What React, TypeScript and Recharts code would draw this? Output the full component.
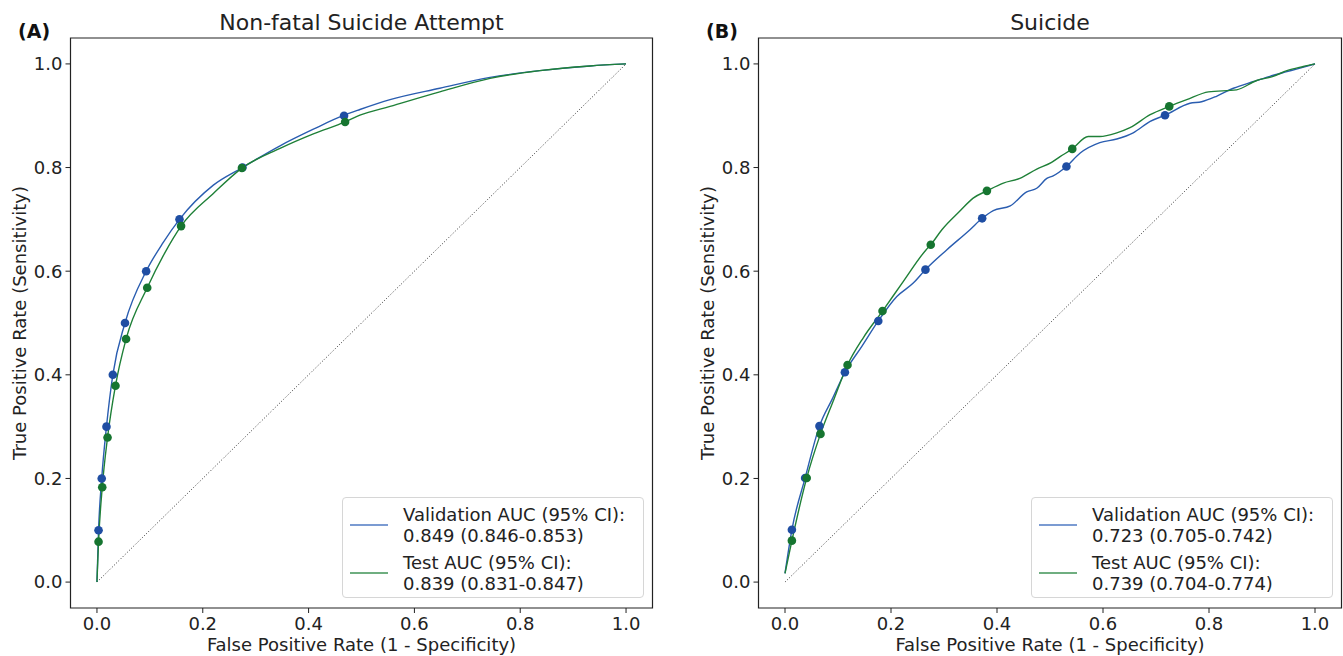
import React from 'react';
import {
  ComposedChart,
  Line,
  Scatter,
  XAxis,
  YAxis,
  ReferenceArea,
  Label,
} from 'recharts';

// Panel A: non-fatal suicide attempt
const nfsaValFpr = [0, 0.003, 0.009, 0.018, 0.03, 0.053, 0.093, 0.125, 0.156, 0.22, 0.275, 0.346, 0.409, 0.467, 0.497, 0.554, 0.648, 0.743, 0.837, 0.932, 1.0];
const nfsaValTpr = [0, 0.1, 0.2, 0.3, 0.4, 0.5, 0.6, 0.655, 0.7, 0.766, 0.8, 0.842, 0.874, 0.901, 0.912, 0.931, 0.953, 0.974, 0.987, 0.996, 1.0];
const nfsaTestFpr = [0, 0.003, 0.01, 0.02, 0.035, 0.055, 0.095, 0.128, 0.159, 0.22, 0.274, 0.346, 0.409, 0.469, 0.497, 0.554, 0.648, 0.743, 0.837, 0.932, 1.0];
const nfsaTestTpr = [0, 0.078, 0.183, 0.279, 0.379, 0.469, 0.568, 0.635, 0.687, 0.75, 0.799, 0.837, 0.865, 0.888, 0.901, 0.918, 0.946, 0.972, 0.987, 0.996, 1.0];
const nfsaValMarkFpr = [0.003, 0.009, 0.018, 0.03, 0.053, 0.093, 0.156, 0.275, 0.467];
const nfsaValMarkTpr = [0.1, 0.2, 0.3, 0.4, 0.5, 0.6, 0.7, 0.8, 0.9];
const nfsaTestMarkFpr = [0.003, 0.01, 0.02, 0.035, 0.055, 0.095, 0.159, 0.274, 0.469];
const nfsaTestMarkTpr = [0.078, 0.183, 0.279, 0.379, 0.469, 0.568, 0.687, 0.799, 0.888];

// Panel B: suicide
const suiValFpr = [0, 0.013, 0.038, 0.065, 0.09, 0.113, 0.145, 0.176, 0.211, 0.242, 0.265, 0.305, 0.349, 0.372, 0.393, 0.425, 0.456, 0.475, 0.494, 0.506, 0.531, 0.557, 0.594, 0.626, 0.657, 0.689, 0.717, 0.764, 0.786, 0.815, 0.846, 0.884, 0.915, 0.947, 0.965, 1.0];
const suiValTpr = [0.017, 0.101, 0.201, 0.301, 0.355, 0.405, 0.455, 0.504, 0.551, 0.577, 0.603, 0.641, 0.68, 0.702, 0.717, 0.726, 0.753, 0.76, 0.779, 0.784, 0.802, 0.828, 0.848, 0.855, 0.867, 0.889, 0.901, 0.924, 0.927, 0.938, 0.953, 0.966, 0.976, 0.985, 0.99, 1.0];
const suiTestFpr = [0, 0.013, 0.041, 0.067, 0.092, 0.118, 0.148, 0.184, 0.223, 0.266, 0.275, 0.296, 0.33, 0.355, 0.381, 0.412, 0.443, 0.475, 0.503, 0.519, 0.542, 0.572, 0.594, 0.626, 0.651, 0.689, 0.725, 0.758, 0.799, 0.852, 0.89, 0.921, 0.947, 0.978, 1.0];
const suiTestTpr = [0.017, 0.08, 0.201, 0.286, 0.352, 0.419, 0.472, 0.523, 0.58, 0.641, 0.651, 0.68, 0.716, 0.741, 0.755, 0.77, 0.779, 0.797, 0.81, 0.821, 0.836, 0.86, 0.86, 0.867, 0.877, 0.902, 0.918, 0.931, 0.946, 0.95, 0.968, 0.976, 0.987, 0.995, 1.0];
const suiValMarkFpr = [0.013, 0.038, 0.065, 0.113, 0.176, 0.265, 0.372, 0.531, 0.717];
const suiValMarkTpr = [0.101, 0.201, 0.301, 0.405, 0.504, 0.603, 0.702, 0.802, 0.901];
const suiTestMarkFpr = [0.013, 0.041, 0.067, 0.118, 0.184, 0.275, 0.381, 0.542, 0.725];
const suiTestMarkTpr = [0.08, 0.201, 0.286, 0.419, 0.523, 0.651, 0.755, 0.836, 0.918];

const chanceFpr = [0, 1];
const chanceTpr = [0, 1];
const axisTicks = [0, 0.2, 0.4, 0.6, 0.8, 1.0];

const zip = (xs: number[], ys: number[]) => xs.map((x, i) => ({ x, y: ys[i] }));

const FONT = '"DejaVu Sans", sans-serif';
const BLUE = '#2a5db0';
const BLUE_DOT = '#1f4ea3';
const GREEN = '#1f8038';
const GREEN_DOT = '#167530';

const Dot = (color: string) => (props: any) => (
  <circle cx={props.cx} cy={props.cy} r={4.3} fill={color} />
);

const LegendBox = ({ val, test, left }: { val: string[]; test: string[]; left: number }) => {
  const entry = (lines: string[], color: string) => (
    <div style={{ display: 'flex', alignItems: 'center', height: 42 }}>
      <div style={{ width: 38, height: 2, background: color, marginLeft: 7, flexShrink: 0 }} />
      <div style={{ marginLeft: 15, lineHeight: '21px', whiteSpace: 'nowrap' }}>
        {lines.map((l) => (
          <div key={l}>{l}</div>
        ))}
      </div>
    </div>
  );
  return (
    <div
      style={{
        position: 'absolute',
        left,
        top: 497,
        width: 302,
        height: 101,
        boxSizing: 'border-box',
        border: '1px solid #d6d6d6',
        borderRadius: 4,
        background: 'rgba(255,255,255,0.85)',
        fontFamily: FONT,
        fontSize: 18,
        color: '#222',
        paddingTop: 6,
      }}
    >
      {entry(val, '#7b9bd2')}
      <div style={{ height: 6 }} />
      {entry(test, '#6fae80')}
    </div>
  );
};

type PanelProps = {
  left: number;
  width: number;
  marginRight: number;
  legendLeft: number;
  title: string;
  tag: string;
  val: { x: number; y: number }[];
  test: { x: number; y: number }[];
  valMarks: { x: number; y: number }[];
  testMarks: { x: number; y: number }[];
  legendVal: string[];
  legendTest: string[];
};

const Panel = (p: PanelProps) => {
  const plotLeft = 70.5;
  const plotCenter = plotLeft + (p.width - plotLeft - p.marginRight) / 2;
  return (
    <div style={{ position: 'absolute', left: p.left, top: 0, width: p.width, height: 656 }}>
      <div style={{ position: 'absolute', left: 18, top: 22, fontFamily: FONT, fontWeight: 'bold', fontSize: 19, lineHeight: '19px', color: '#111' }}>
        {p.tag}
      </div>
      <div
        style={{
          position: 'absolute',
          left: plotCenter - 250,
          width: 500,
          top: 12,
          textAlign: 'center',
          fontFamily: FONT,
          fontSize: 22,
          lineHeight: '22px',
          color: '#222',
        }}
      >
        {p.title}
      </div>
      <ComposedChart
        width={p.width}
        height={656}
        margin={{ top: 38, right: p.marginRight, bottom: 0, left: 0 }}
        style={{ fontFamily: FONT }}
      >
        <XAxis
          type="number"
          dataKey="x"
          domain={[-0.05, 1.05]}
          ticks={axisTicks}
          tickFormatter={(v: number) => v.toFixed(1)}
          allowDataOverflow
          height={48}
          axisLine={false}
          tickSize={5}
          tickMargin={4}
          tickLine={{ stroke: '#222' }}
          tick={{ fill: '#222', fontSize: 18 }}
        >
          <Label value="False Positive Rate (1 - Specificity)" position="insideBottom" offset={5} style={{ fontSize: 18, fill: '#222' }} />
        </XAxis>
        <YAxis
          type="number"
          dataKey="y"
          domain={[-0.05, 1.05]}
          ticks={axisTicks}
          tickFormatter={(v: number) => v.toFixed(1)}
          allowDataOverflow
          width={plotLeft}
          axisLine={false}
          tickSize={5}
          tickMargin={3}
          tickLine={{ stroke: '#222' }}
          tick={{ fill: '#222', fontSize: 18 }}
        >
          <Label
            value="True Positive Rate (Sensitivity)"
            angle={-90}
            position="insideLeft"
            offset={20}
            style={{ fontSize: 18, fill: '#222', textAnchor: 'middle' }}
          />
        </YAxis>
        <Line
          data={zip(chanceFpr, chanceTpr)}
          dataKey="y"
          type="linear"
          stroke="#333"
          strokeWidth={1}
          strokeDasharray="1 2"
          dot={false}
          isAnimationActive={false}
        />
        <Line data={p.val} dataKey="y" type="monotone" stroke={BLUE} strokeWidth={1.4} dot={false} isAnimationActive={false} />
        <Line data={p.test} dataKey="y" type="monotone" stroke={GREEN} strokeWidth={1.4} dot={false} isAnimationActive={false} />
        <Scatter data={p.valMarks} dataKey="y" shape={Dot(BLUE_DOT)} isAnimationActive={false} />
        <Scatter data={p.testMarks} dataKey="y" shape={Dot(GREEN_DOT)} isAnimationActive={false} />
        <ReferenceArea x1={-0.05} x2={1.05} y1={-0.05} y2={1.05} fill="none" stroke="#222" strokeWidth={1.2} ifOverflow="visible" />
      </ComposedChart>
      <LegendBox val={p.legendVal} test={p.legendTest} left={p.legendLeft} />
    </div>
  );
};

export default function App() {
  return (
    <div style={{ position: 'absolute', left: 0, top: 0, width: 1343, height: 656, background: '#fff', overflow: 'hidden' }}>
      <Panel
        left={0}
        width={660}
        marginRight={7.5}
        legendLeft={342}
        title="Non-fatal Suicide Attempt"
        tag="(A)"
        val={zip(nfsaValFpr, nfsaValTpr)}
        test={zip(nfsaTestFpr, nfsaTestTpr)}
        valMarks={zip(nfsaValMarkFpr, nfsaValMarkTpr)}
        testMarks={zip(nfsaTestMarkFpr, nfsaTestMarkTpr)}
        legendVal={['Validation AUC (95% CI):', '0.849 (0.846-0.853)']}
        legendTest={['Test AUC (95% CI):', '0.839 (0.831-0.847)']}
      />
      <Panel
        left={688}
        width={655}
        marginRight={1.5}
        legendLeft={343}
        title="Suicide"
        tag="(B)"
        val={zip(suiValFpr, suiValTpr)}
        test={zip(suiTestFpr, suiTestTpr)}
        valMarks={zip(suiValMarkFpr, suiValMarkTpr)}
        testMarks={zip(suiTestMarkFpr, suiTestMarkTpr)}
        legendVal={['Validation AUC (95% CI):', '0.723 (0.705-0.742)']}
        legendTest={['Test AUC (95% CI):', '0.739 (0.704-0.774)']}
      />
    </div>
  );
}
